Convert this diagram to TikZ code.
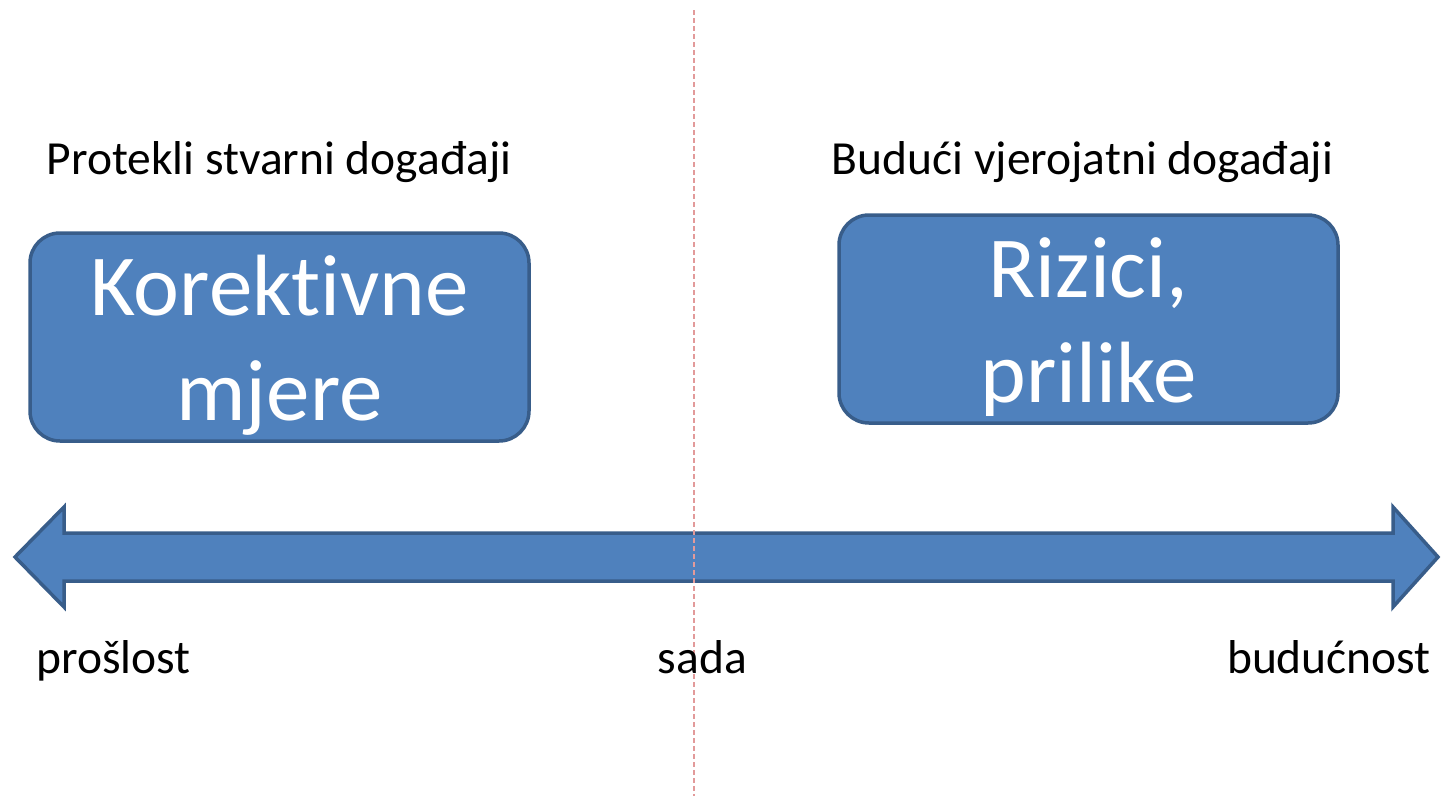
\documentclass[tikz,border=0pt]{standalone}
\usepackage{fontspec}
\setmainfont[Ligatures={NoCommon}]{Carlito}
\definecolor{boxfill}{HTML}{4F81BD}
\definecolor{boxline}{HTML}{385D8A}
\definecolor{dashred}{HTML}{E29A9A}
\begin{document}
\begin{tikzpicture}[x=1pt,y=-1pt,
  blockbox/.style={draw=boxline,fill=boxfill,line width=3.5pt,rounded corners=30pt},
  boxtext/.style={text=white,align=center,font=\fontsize{87}{105}\selectfont},
  lbl/.style={anchor=base,font=\fontsize{47.5}{56}\selectfont}]
\useasboundingbox (0,0) rectangle (1441,796);
% boxes
\draw[blockbox] (30,233) rectangle (529,441);
\node[boxtext] (kor) at (279.5,345) {Korektivne\\mjere};
\draw[blockbox] (839,215) rectangle (1338,423);
\node[boxtext] (riz) at (1088.5,327) {Rizici,\\prilike};
% top labels
\node[lbl] (past) at (279,174) {Protekli stvarni događaji};
\node[lbl] (fut) at (1082.5,174) {Budući vjerojatni događaji};
% double arrow
\draw[draw=boxline,fill=boxfill,line width=3.5pt,line join=miter]
  (15,557) -- (64,507) -- (64,533) -- (1393,533) -- (1393,507) -- (1438,557)
  -- (1393,607) -- (1393,581) -- (64,581) -- (64,607) -- cycle;
% dashed line
\coordinate (dtop) at (694,10);
\coordinate (dbot) at (694,796);
\draw[dashred,line width=1.2pt,dash pattern=on 5pt off 3pt] (dtop) -- (dbot);
% bottom labels
\node[lbl] (pro) at (113.5,673) {prošlost};
\node[lbl] (sada) at (702.5,673) {sada};
\node[lbl] (bud) at (1329,673) {budućnost};
\end{tikzpicture}
\end{document}
